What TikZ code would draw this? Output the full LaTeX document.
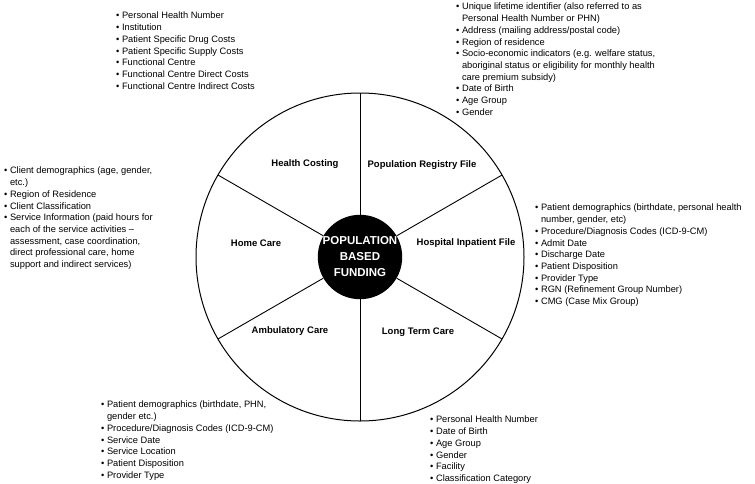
\documentclass[tikz,border=0pt]{standalone}
\usepackage{fontspec}
\setmainfont{Liberation Sans}
\usepackage{tikz}
\usetikzlibrary{positioning}
\tikzset{>=stealth}
\tikzset{
  sector/.style={font=\bfseries\fontsize{9.5}{11}\selectfont},
  datalist/.style={anchor=north west, inner sep=0pt, align=left, font=\fontsize{9.3}{11.7}\selectfont},
  hub/.style={circle, fill=black, text=white, minimum size=82pt, inner sep=0pt, align=center, font=\bfseries\fontsize{11.5}{16}\selectfont},
  spoke/.style={line width=0.9pt}
}
\newcommand{\itm}{\textbullet\ }
\newcommand{\cnt}{\phantom{\textbullet\ }}

\begin{document}
\begin{tikzpicture}[x=1pt,y=-1pt]
  \useasboundingbox (0,0) rectangle (755,483);
  \node[draw, circle, minimum size=328pt, inner sep=0pt, outer sep=0pt, line width=1pt] (ring) at (360,257) {};
  \node[hub] (hub) at (360,257) {POPULATION\\BASED\\FUNDING};
  \draw[spoke] (hub.90) -- (ring.90);
  \draw[spoke] (hub.30) -- (ring.30);
  \draw[spoke] (hub.-30) -- (ring.-30);
  \draw[spoke] (hub.-90) -- (ring.-90);
  \draw[spoke] (hub.-150) -- (ring.-150);
  \draw[spoke] (hub.150) -- (ring.150);
  \node[sector] (costing) at (305,164) {Health Costing};
  \node[sector] (registry) at (422,165) {Population Registry File};
  \node[sector] (homecare) at (256,243) {Home Care};
  \node[sector] (inpatient) at (466,243) {Hospital Inpatient File};
  \node[sector] (ambulatory) at (290,331) {Ambulatory Care};
  \node[sector] (longterm) at (418,332) {Long Term Care};
  \node[datalist] (costinglist) at (116,12) {\itm Personal Health Number\\
    \itm Institution\\
    \itm Patient Specific Drug Costs\\
    \itm Patient Specific Supply Costs\\
    \itm Functional Centre\\
    \itm Functional Centre Direct Costs\\
    \itm Functional Centre Indirect Costs};
  \node[datalist] (registrylist) at (456,3) {\itm Unique lifetime identifier (also referred to as\\
    \cnt Personal Health Number or PHN)\\
    \itm Address (mailing address/postal code)\\
    \itm Region of residence\\
    \itm Socio-economic indicators (e.g. welfare status,\\
    \cnt aboriginal status or eligibility for monthly health\\
    \cnt care premium subsidy)\\
    \itm Date of Birth\\
    \itm Age Group\\
    \itm Gender};
  \node[datalist] (homelist) at (4,167) {\itm Client demographics (age, gender,\\
    \cnt etc.)\\
    \itm Region of Residence\\
    \itm Client Classification\\
    \itm Service Information (paid hours for\\
    \cnt each of the service activities --\\
    \cnt assessment, case coordination,\\
    \cnt direct professional care, home\\
    \cnt support and indirect services)};
  \node[datalist] (inpatientlist) at (535,204) {\itm Patient demographics (birthdate, personal health\\
    \cnt number, gender, etc)\\
    \itm Procedure/Diagnosis Codes (ICD-9-CM)\\
    \itm Admit Date\\
    \itm Discharge Date\\
    \itm Patient Disposition\\
    \itm Provider Type\\
    \itm RGN (Refinement Group Number)\\
    \itm CMG (Case Mix Group)};
  \node[datalist] (ambulist) at (101,401) {\itm Patient demographics (birthdate, PHN,\\
    \cnt gender etc.)\\
    \itm Procedure/Diagnosis Codes (ICD-9-CM)\\
    \itm Service Date\\
    \itm Service Location\\
    \itm Patient Disposition\\
    \itm Provider Type};
  \node[datalist] (longtermlist) at (430,416) {\itm Personal Health Number\\
    \itm Date of Birth\\
    \itm Age Group\\
    \itm Gender\\
    \itm Facility\\
    \itm Classification Category};
\end{tikzpicture}
\end{document}
